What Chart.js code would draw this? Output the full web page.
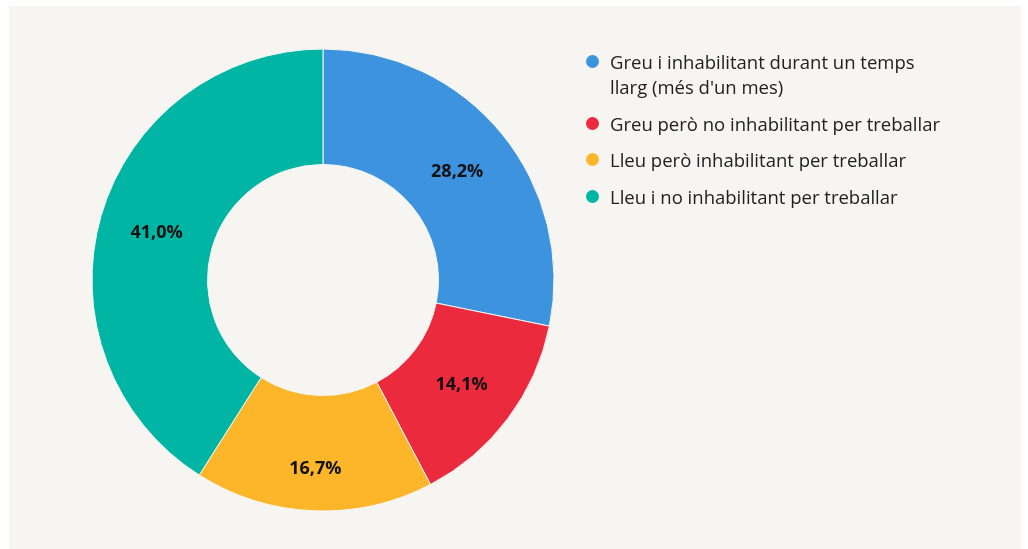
<!DOCTYPE html>
<html>
<head>
<meta charset="utf-8">
<script src="https://cdn.jsdelivr.net/npm/chart.js@4/dist/chart.umd.min.js"></script>
<style>
  html, body { margin: 0; padding: 0; background: #ffffff; }
  #wrap { position: relative; width: 1028px; height: 549px; overflow: hidden; }
  #panel { position: absolute; left: 9px; top: 6px; width: 1012px; height: 543px; background: #f6f5f2; }
  #chart { position: absolute; left: 0; top: 0; }
  #legend { position: absolute; left: 586px; top: 49px; font-family: "Open Sans", Roboto, sans-serif; font-size: 18.5px; color: #202124; }
  .item { display: flex; align-items: flex-start; margin-bottom: 11.5px; line-height: 25px; white-space: nowrap; }
  .dot { width: 13px; height: 13px; border-radius: 50%; margin-top: 6px; margin-right: 11px; flex: none; }
</style>
</head>
<body>
<div id="wrap">
  <div id="panel"></div>
  <canvas id="chart" width="1028" height="549"></canvas>
  <div id="legend"></div>
</div>
<script>
const categories = [
  ['Greu i inhabilitant durant un temps', "llarg (més d'un mes)"],
  ['Greu però no inhabilitant per treballar'],
  ['Lleu però inhabilitant per treballar'],
  ['Lleu i no inhabilitant per treballar']
];
const values = [28.2, 14.1, 16.7, 41.0];
const valueLabels = ['28,2%', '14,1%', '16,7%', '41,0%'];
const colors = ['#3d93dd', '#eb2a3d', '#fdb62a', '#00b5a4'];
// extra radial push (px) for labels that were moved outward in the original
const labelRadialShift = [0, 0, 15, 0];

const labelPlugin = {
  id: 'sliceLabels',
  afterDatasetsDraw(chart) {
    const ctx = chart.ctx;
    const meta = chart.getDatasetMeta(0);
    ctx.save();
    ctx.font = 'bold 18px "Open Sans", Roboto, sans-serif';
    ctx.fillStyle = '#111111';
    ctx.textAlign = 'center';
    ctx.textBaseline = 'middle';
    meta.data.forEach((arc, i) => {
      const mid = (arc.startAngle + arc.endAngle) / 2;
      const r = (arc.innerRadius + arc.outerRadius) / 2 + labelRadialShift[i];
      ctx.fillText(valueLabels[i], arc.x + Math.cos(mid) * r, arc.y + Math.sin(mid) * r + 1);
    });
    ctx.restore();
  }
};

const chart = new Chart(document.getElementById('chart'), {
  type: 'doughnut',
  data: {
    labels: categories.map(c => c.join(' ')),
    datasets: [{
      data: values,
      backgroundColor: colors,
      borderColor: '#f6f5f2',
      borderWidth: 1,
      hoverOffset: 0
    }]
  },
  options: {
    responsive: false,
    animation: false,
    cutout: '50%',
    layout: { padding: { left: 91.5, top: 48.5, right: 473.5, bottom: 37.5 } },
    plugins: {
      legend: { display: false },
      tooltip: { enabled: false }
    }
  },
  plugins: [labelPlugin]
});

const legend = document.getElementById('legend');
categories.forEach((lines, i) => {
  const item = document.createElement('div');
  item.className = 'item';
  const dot = document.createElement('span');
  dot.className = 'dot';
  dot.style.background = chart.data.datasets[0].backgroundColor[i];
  const txt = document.createElement('span');
  txt.innerHTML = lines.map(l => l.replace(/&/g, '&amp;').replace(/</g, '&lt;')).join('<br>');
  item.appendChild(dot);
  item.appendChild(txt);
  legend.appendChild(item);
});
</script>
</body>
</html>
